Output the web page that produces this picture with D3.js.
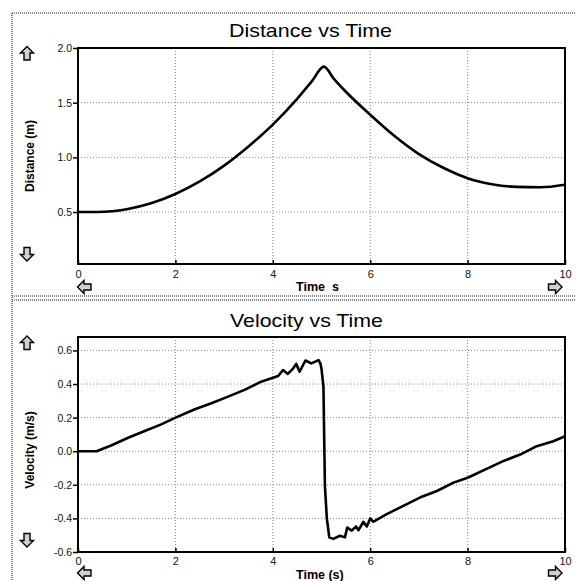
<!DOCTYPE html>
<html><head><meta charset="utf-8">
<script src="https://cdn.jsdelivr.net/npm/d3@7"></script>
<style>
body{margin:0;background:#fff;}
svg{display:block;font-family:"Liberation Sans",Arial,sans-serif;}
</style></head>
<body>
<svg id="c" width="576" height="581"></svg>
<script>
// ---- data ----
const timeTicks = [0, 2, 4, 6, 8, 10];
const distTicks = [0.5, 1.0, 1.5, 2.0];
const velTicks = [-0.6, -0.4, -0.2, 0.0, 0.2, 0.4, 0.6];

const distT = [0,0.4,0.7,1.0,1.5,2.0,2.5,3.0,3.5,4.0,4.5,4.8,5.05,5.25,5.5,6.0,6.5,7.0,7.5,8.0,8.5,9.0,9.5,10];
const distV = [0.5,0.5,0.507,0.526,0.58,0.665,0.78,0.925,1.10,1.30,1.535,1.695,1.83,1.72,1.60,1.39,1.195,1.03,0.905,0.81,0.755,0.73,0.727,0.75];

const velT = [0,0.38,0.68,1.03,1.37,1.71,1.98,2.40,2.74,3.08,3.42,3.76,4.11,4.21,4.31,4.41,4.48,4.55,4.67,4.79,4.94,4.98,5.0,5.04,5.07,5.11,5.16,5.24,5.38,5.48,5.53,5.62,5.71,5.76,5.86,5.93,6.0,6.06,6.34,6.68,7.02,7.37,7.71,8.0,8.39,8.73,9.08,9.42,9.76,10];
const velV = [0,0,0.034,0.08,0.12,0.16,0.197,0.25,0.286,0.325,0.365,0.414,0.448,0.483,0.46,0.49,0.52,0.473,0.54,0.523,0.542,0.52,0.49,0.385,-0.207,-0.40,-0.513,-0.522,-0.503,-0.513,-0.454,-0.473,-0.448,-0.47,-0.42,-0.448,-0.4,-0.42,-0.375,-0.325,-0.276,-0.237,-0.187,-0.158,-0.105,-0.059,-0.02,0.03,0.059,0.089];

const svg = d3.select("#c");

// panel borders (stippled)
const border = (x1,y1,x2,y2)=>svg.append("line").attr("x1",x1).attr("y1",y1).attr("x2",x2).attr("y2",y2)
  .attr("stroke","#666").attr("stroke-width",1.6).attr("stroke-dasharray","1 1");
border(12,13,576,13);
border(12,13,12,581);
border(12,296,576,296);
border(12,300,576,300);

function arrow(x, y, rot){
  svg.append("path")
    .attr("d","M0,-7 L6.5,-0.5 L3,-0.5 L3,6.5 L-3,6.5 L-3,-0.5 L-6.5,-0.5 Z")
    .attr("transform",`translate(${x},${y}) rotate(${rot})`)
    .attr("fill","#d0d0d0").attr("stroke","#000").attr("stroke-width",1.4)
    .attr("stroke-linejoin","miter");
}

function panel(o){
  const x = d3.scaleLinear().domain([0,10]).range([78,565]);
  const y = d3.scaleLinear().domain(o.ydom).range([o.bot,o.top]);
  const g = svg.append("g");

  // grid
  g.append("g").selectAll("line").data(timeTicks.slice(1,-1)).join("line")
    .attr("x1",d=>x(d)).attr("x2",d=>x(d)).attr("y1",o.top).attr("y2",o.bot)
    .attr("stroke","#888").attr("stroke-width",1).attr("stroke-dasharray","1 2");
  g.append("g").selectAll("line").data(o.yticks.filter(d=>y(d)>o.top+1 && y(d)<o.bot-1)).join("line")
    .attr("y1",d=>y(d)).attr("y2",d=>y(d)).attr("x1",78).attr("x2",565)
    .attr("stroke","#888").attr("stroke-width",1).attr("stroke-dasharray","1 2");

  // axes
  const ya = g.append("g").attr("transform","translate(78,0)")
    .call(d3.axisLeft(y).tickValues(o.yticks).tickFormat(d3.format(".1f")).tickSize(5).tickPadding(1));
  ya.select(".domain").remove();
  ya.selectAll("line").attr("stroke","#000").attr("stroke-width",1.5);
  ya.selectAll("text").attr("font-size","10.5px").attr("fill","#111")
    .text(d=>d3.format(".1f")(d).replace("−","-"));

  const xa = g.append("g").attr("transform",`translate(0,${o.bot})`)
    .call(d3.axisBottom(x).tickValues(timeTicks).tickFormat(d3.format("d")).tickSizeInner(-4).tickSizeOuter(0).tickPadding(o.xpad));
  xa.select(".domain").remove();
  xa.selectAll("line").attr("stroke","#000").attr("stroke-width",1.5);
  xa.selectAll("text").attr("font-size","11px").attr("fill","#111");

  // frame
  g.append("rect").attr("x",78).attr("y",o.top).attr("width",565-78).attr("height",o.bot-o.top)
    .attr("fill","none").attr("stroke","#000").attr("stroke-width",2);

  // line
  const line = d3.line().x(d=>x(d[0])).y(d=>y(d[1])).curve(o.curve);
  g.append("path").datum(o.t.map((t,i)=>[t,o.v[i]]))
    .attr("d",line).attr("fill","none").attr("stroke","#000").attr("stroke-width",2.6)
    .attr("stroke-linejoin","round");

  // title
  svg.append("text").attr("x",o.tx).attr("y",o.ty).attr("font-size","19px").attr("fill","#000")
    .attr("textLength",o.tlen).attr("lengthAdjust","spacingAndGlyphs").text(o.title);
  // axis labels
  svg.append("text").attr("transform",`translate(34,${o.ylabY}) rotate(-90)`).attr("text-anchor","middle")
    .attr("font-size","12px").attr("font-weight","bold").text(o.ylab);
  svg.append("text").attr("x",296).attr("y",o.xlabY).attr("font-size","12.5px").attr("font-weight","bold")
    .attr("xml:space","preserve").style("white-space","pre").text(o.xlab);

  arrow(27, o.up, 0);
  arrow(27, o.down, 180);
  arrow(84.5, o.lr, -90);
  arrow(555, o.lr, 90);
}

panel({top:48, bot:264, ydom:[0.025,2.0], yticks:distTicks, t:distT, v:distV,
  curve:d3.curveMonotoneX, title:"Distance vs Time", tx:229, ty:37, tlen:163,
  ylab:"Distance (m)", ylabY:156, xlab:"Time  s", xlabY:291, xpad:6,
  up:53.5, down:254, lr:287});

panel({top:337, bot:552, ydom:[-0.6,0.68], yticks:velTicks, t:velT, v:velV,
  curve:d3.curveLinear, title:"Velocity vs Time", tx:230, ty:327, tlen:153,
  ylab:"Velocity (m/s)", ylabY:450, xlab:"Time (s)", xlabY:579, xpad:5,
  up:343, down:540, lr:573});
</script>
</body></html>
